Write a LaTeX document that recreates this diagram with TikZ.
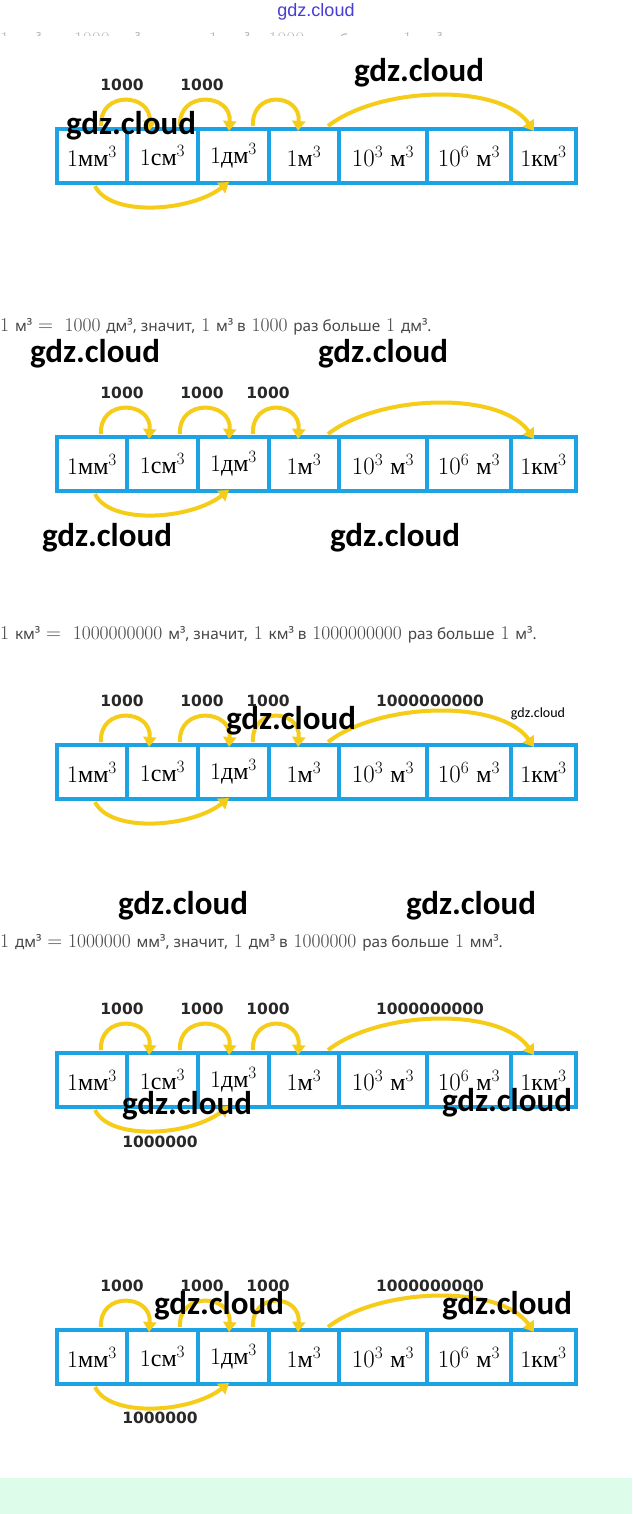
\documentclass[tikz,border=0pt]{standalone}
\usepackage{fontspec}
\usetikzlibrary{arrows.meta}
\newfontfamily\cyrs{Liberation Serif}
\newfontfamily\lblfont{DejaVu Sans}
\newfontfamily\wordfont{Noto Sans}
\newfontfamily\wmfont{Carlito}
\newfontfamily\topwmfont{Liberation Sans}
\definecolor{stripblue}{RGB}{28,163,228}
\definecolor{arcyellow}{RGB}{245,205,25}
\definecolor{mint}{RGB}{221,252,233}
\definecolor{txtgray}{RGB}{70,70,70}
\definecolor{lblgray}{RGB}{40,40,40}
\definecolor{wmblue}{RGB}{70,60,215}
\newcommand\wds[1]{{\wordfont\fontsize{15.3}{17}\selectfont #1}}
\tikzset{
  cell/.style={draw=stripblue, line width=4pt, minimum height=54pt, inner sep=0pt,
    font=\fontsize{24}{28}\selectfont},
  arc/.style={draw=arcyellow, line width=4pt, -{Triangle[width=13pt,length=10pt]}},
  lbl/.style={font=\lblfont\bfseries\fontsize{15.5}{18}\selectfont, text=lblgray, inner sep=0pt},
  wm/.style={font=\wmfont\bfseries\fontsize{33}{36}\selectfont, text=black, inner sep=0pt},
  txtline/.style={font=\fontsize{19.5}{22}\selectfont, text=txtgray, inner sep=0pt, anchor=west},
}
\newcommand\unitstrip[2]{%
  \node[cell,minimum width=70pt] (#1a) at (92,{#2+27}) {1{\cyrs мм}$^3$};
  \node[cell,minimum width=71pt] (#1b) at (162.5,{#2+27}) {1{\cyrs см}$^3$};
  \node[cell,minimum width=71pt] (#1c) at (233.5,{#2+27}) {1{\cyrs дм}$^3$};
  \node[cell,minimum width=70pt] (#1d) at (304,{#2+27}) {1{\cyrs м}$^3$};
  \node[cell,minimum width=88pt] (#1e) at (383,{#2+27}) {$10^3$ {\cyrs м}$^3$};
  \node[cell,minimum width=84pt] (#1f) at (469,{#2+27}) {$10^6$ {\cyrs м}$^3$};
  \node[cell,minimum width=65pt] (#1g) at (543.5,{#2+27}) {1{\cyrs км}$^3$};
  \draw[arc] ([xshift=9pt,yshift=1pt]#1a.north) .. controls +(-2,-36) and +(3,-38) .. ([xshift=-13.5pt,yshift=-4pt]#1b.north);
  \draw[arc] ([xshift=17.5pt,yshift=1pt]#1b.north) .. controls +(-2,-36) and +(3,-38) .. ([xshift=-4.5pt,yshift=-4pt]#1c.north);
  \draw[arc] ([xshift=19.5pt,yshift=1pt]#1c.north) .. controls +(-2,-36) and +(3,-38) .. ([xshift=-6pt,yshift=-4pt]#1d.north);
  \draw[arc] ([xshift=24pt,yshift=1pt]#1d.north) .. controls +(52,-40) and +(-34,-48) .. ([xshift=-9.5pt,yshift=-4pt]#1g.north);
  \draw[arc] ([xshift=3pt,yshift=-1pt]#1a.south) .. controls +(15,31) and +(-39,30) .. ([xshift=-4.5pt,yshift=3pt]#1c.south);
}
\begin{document}
\begin{tikzpicture}[x=1pt,y=-1pt]
\useasboundingbox (0,0) rectangle (632,1514);
\fill[white] (0,0) rectangle (632,1514);
\fill[mint] (0,1478) rectangle (632,1514);

% top partial line
\begin{scope}
  \clip (0,31) rectangle (632,36);
  \node[txtline, anchor=base west, opacity=0.4] (t0) at (0,45.5) {1 \wds{дм³} $=$\ \ 1000 \wds{см³, значит,} 1 \wds{дм³ в} 1000 \wds{раз больше} 1 \wds{см³.}};
\end{scope}

% strip 1
\unitstrip{sa}{129}
\node[lbl] (sal1) at (122,85) {1000};
\node[lbl] (sal2) at (202,85) {1000};

% text 2
\node[txtline] (t1) at (0,327) {1 \wds{м³} $=$\ \ 1000 \wds{дм³, значит,} 1 \wds{м³ в} 1000 \wds{раз больше} 1 \wds{дм³.}};

% strip 2
\unitstrip{sb}{437}
\node[lbl] (sbl1) at (122,393) {1000};
\node[lbl] (sbl2) at (202,393) {1000};
\node[lbl] (sbl3) at (268,393) {1000};

% text 3
\node[txtline] (t2) at (0,635) {1 \wds{км³} $=$\ \ 1000000000 \wds{м³, значит,} 1 \wds{км³ в} 1000000000 \wds{раз больше} 1 \wds{м³.}};

% strip 3
\unitstrip{sc}{745}
\node[lbl] (scl1) at (122,701) {1000};
\node[lbl] (scl2) at (202,701) {1000};
\node[lbl] (scl3) at (268,701) {1000};
\node[lbl] (scl4) at (430,701) {1000000000};

% text 4
\node[txtline] (t3) at (0,943) {1 \wds{дм³} $=$ 1000000 \wds{мм³, значит,} 1 \wds{дм³ в} 1000000 \wds{раз больше} 1 \wds{мм³.}};

% strip 4
\unitstrip{sd}{1053}
\node[lbl] (sdl1) at (122,1009) {1000};
\node[lbl] (sdl2) at (202,1009) {1000};
\node[lbl] (sdl3) at (268,1009) {1000};
\node[lbl] (sdl4) at (430,1009) {1000000000};
\node[lbl] (sdl5) at (160,1142) {1000000};

% strip 5
\unitstrip{se}{1330}
\node[lbl] (sel1) at (122,1286) {1000};
\node[lbl] (sel2) at (202,1286) {1000};
\node[lbl] (sel3) at (268,1286) {1000};
\node[lbl] (sel4) at (430,1286) {1000000000};
\node[lbl] (sel5) at (160,1418) {1000000};

% watermarks
\node[font=\topwmfont\fontsize{18}{20}\selectfont, text=wmblue, inner sep=0pt] (w0) at (316,12) {gdz.cloud};
\node[wm] (w1) at (131,126) {gdz.cloud};
\node[wm] (w2) at (419,73) {gdz.cloud};
\node[wm] (w3) at (95,354) {gdz.cloud};
\node[wm] (w4) at (383,354) {gdz.cloud};
\node[wm] (w5) at (107,538) {gdz.cloud};
\node[wm] (w6) at (395,538) {gdz.cloud};
\node[wm] (w7) at (291,721) {gdz.cloud};
\node[font=\wmfont\fontsize{14}{16}\selectfont, text=black, inner sep=0pt] (w8) at (538,714) {gdz.cloud};
\node[wm] (w9) at (183,906) {gdz.cloud};
\node[wm] (w10) at (471,906) {gdz.cloud};
\node[wm] (w11) at (187,1106) {gdz.cloud};
\node[wm] (w12) at (507,1103) {gdz.cloud};
\node[wm] (w13) at (219,1306) {gdz.cloud};
\node[wm] (w14) at (507,1306) {gdz.cloud};
\end{tikzpicture}
\end{document}
